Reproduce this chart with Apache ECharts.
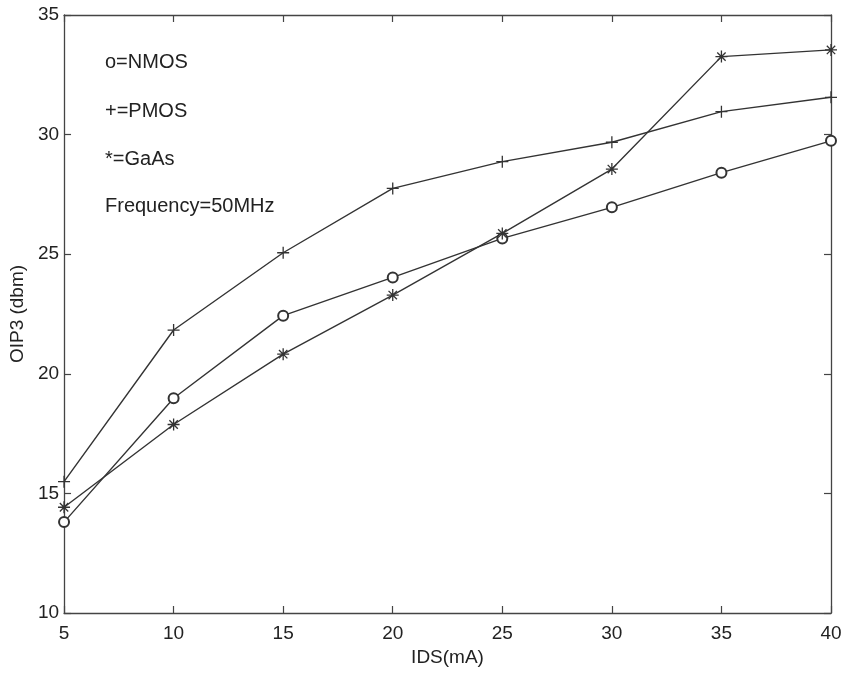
<!DOCTYPE html>
<html>
<head>
<meta charset="utf-8">
<script src="https://cdn.jsdelivr.net/npm/echarts@6/dist/echarts.min.js"></script>
<style>
html,body{margin:0;padding:0;background:#fff;}
#chart{width:848px;height:675px;}
</style>
</head>
<body>
<div id="chart"></div>
<script>
const ids = [5, 10, 15, 20, 25, 30, 35, 40];
const nmos = [13.8, 18.98, 22.43, 24.03, 25.66, 26.96, 28.41, 29.74];
const pmos = [15.49, 21.83, 25.06, 27.75, 28.87, 29.68, 30.96, 31.56];
const gaas = [14.42, 17.88, 20.82, 23.29, 25.87, 28.56, 33.26, 33.54];
const annotations = ['o=NMOS', '+=PMOS', '*=GaAs', 'Frequency=50MHz'];

const ink = '#333';
const font = 'Liberation Sans, Arial, sans-serif';
const plusPath = 'path://M0,5L10,5M5,0L5,10';
const starPath = 'path://M0,5L10,5M5,0L5,10M1.5,1.5L8.5,8.5M8.5,1.5L1.5,8.5';

function pairs(vals){ return ids.map((x,i)=>[x, vals[i]]); }

const chart = echarts.init(document.getElementById('chart'), null, {renderer:'canvas'});
const axisLine = {show:true, lineStyle:{color:'#444', width:1.3}};
const tick = {show:true, inside:true, length:7, lineStyle:{color:'#444', width:1.2}};

const series = [
  {name:'NMOS', data:pairs(nmos), symbol:'emptyCircle', symbolSize:10, bw:1},
  {name:'PMOS', data:pairs(pmos), symbol:plusPath, symbolSize:12, bw:1.3},
  {name:'GaAs', data:pairs(gaas), symbol:starPath, symbolSize:12, bw:1.3}
].map(s => Object.assign({
  type:'line', xAxisIndex:0, yAxisIndex:0, clip:false,
  lineStyle:{color:ink, width:1.4},
  itemStyle:{color:ink, borderColor:ink, borderWidth:s.bw},
  emphasis:{disabled:true}, animation:false
}, s));

chart.setOption({
  backgroundColor:'#fff',
  animation:false,
  grid:{left:62, right:17, top:15, bottom:62, containLabel:false},
  xAxis:[
    {type:'value', min:5, max:40, interval:5, position:'bottom',
     axisLine:axisLine, axisTick:tick, splitLine:{show:false},
     axisLabel:{color:'#222', fontSize:19, fontFamily:font, margin:11},
     name:'IDS(mA)', nameLocation:'middle', nameGap:32,
     nameTextStyle:{color:'#222', fontSize:19, fontFamily:font}},
    {type:'value', min:5, max:40, interval:5, position:'top',
     axisLine:axisLine, axisTick:tick, splitLine:{show:false}, axisLabel:{show:false}}
  ],
  yAxis:[
    {type:'value', min:10, max:35, interval:5, position:'left',
     axisLine:axisLine, axisTick:tick, splitLine:{show:false},
     axisLabel:{color:'#222', fontSize:19, fontFamily:font, margin:5},
     name:'OIP3 (dbm)', nameLocation:'middle', nameGap:31,
     nameTextStyle:{color:'#222', fontSize:19, fontFamily:font}},
    {type:'value', min:10, max:35, interval:5, position:'right',
     axisLine:axisLine, axisTick:tick, splitLine:{show:false}, axisLabel:{show:false}}
  ],
  graphic: annotations.map((t,i)=>({
    type:'text', left:105, top:[52,101,149,196][i],
    style:{text:t, fill:'#222', font:'20px ' + font}
  })),
  series: series
});
</script>
</body>
</html>
